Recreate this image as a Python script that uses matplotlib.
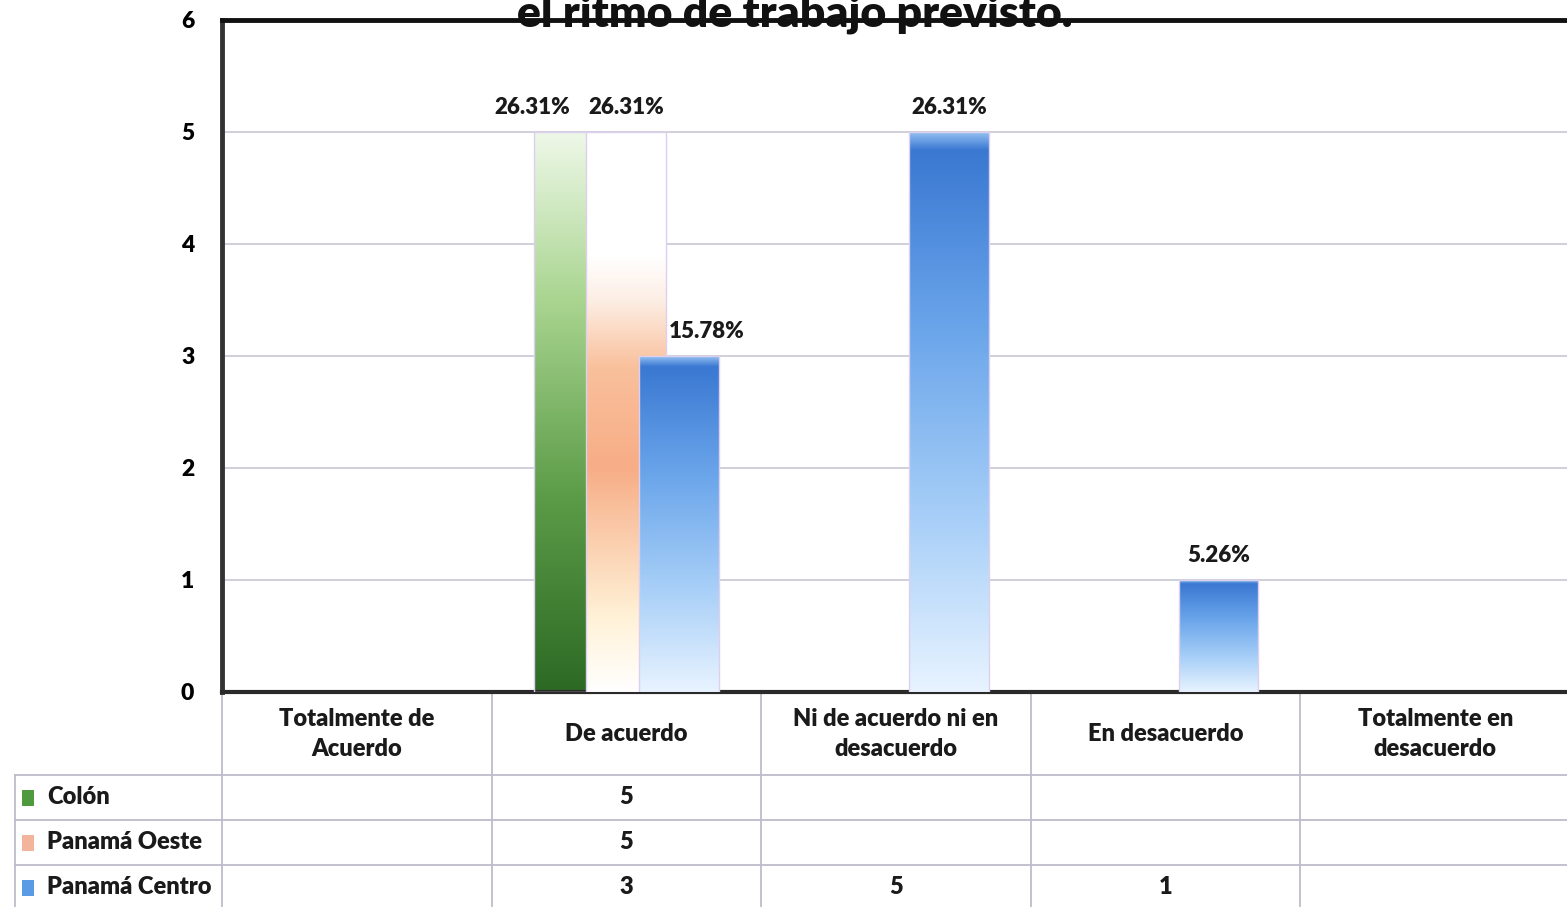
import numpy as np
import matplotlib
matplotlib.use("Agg")
import matplotlib.pyplot as plt
from matplotlib.colors import LinearSegmentedColormap
from matplotlib.patches import Rectangle

plt.rcParams['font.family'] = ['Lato', 'DejaVu Sans']
plt.rcParams['font.weight'] = 'heavy'

# data
categories = ["Totalmente de\nAcuerdo", "De acuerdo", "Ni de acuerdo ni en\ndesacuerdo",
              "En desacuerdo", "Totalmente en\ndesacuerdo"]
series_names = ["Colón", "Panamá Oeste", "Panamá Centro"]
colon = [0, 5, 0, 0, 0]
oeste = [0, 5, 0, 0, 0]
centro = [0, 3, 5, 1, 0]
colon_pct = ["", "26.31%", "", "", ""]
oeste_pct = ["", "26.31%", "", "", ""]
centro_pct = ["", "15.78%", "26.31%", "5.26%", ""]
yticks = [0, 1, 2, 3, 4, 5, 6]
title = "el ritmo de trabajo previsto."

# gradients (bottom -> top)
cm_green = LinearSegmentedColormap.from_list("g", [(0, '#2c6a24'), (0.35, '#5c9c48'),
                                                   (0.7, '#a9d590'), (1, '#eef8e8')])
cm_orange = LinearSegmentedColormap.from_list("o", [(0, '#ffffff'), (0.13, '#fff2d8'),
                                                    (0.4, '#f7ad86'), (0.58, '#f9c09c'),
                                                    (0.7, '#fdeee4'), (0.78, '#ffffff'),
                                                    (1, '#ffffff')])
cm_blue = LinearSegmentedColormap.from_list("b", [(0, '#e8f3ff'), (0.3, '#a9d0f8'),
                                                  (0.65, '#6aa5ea'), (0.97, '#3a78d2'),
                                                  (1, '#8fbdf0')])
square_cols = ['#4f9a3e', '#f2b49a', '#5b9be6']

W, H = 1567, 907
fig = plt.figure(figsize=(W / 100, H / 100), dpi=100)
ax = fig.add_axes([222 / W, 1 - 692 / H, 1348 / W, 672 / H])

series = [colon, oeste, centro]
pcts = [colon_pct, oeste_pct, centro_pct]
cmaps = [cm_green, cm_orange, cm_blue]
offsets = [-0.196, 0.0, 0.196]
width = 0.296
label_shift = [-30, 0, 20]   # points, only where bars overlap

x = np.arange(len(categories))
grad = np.linspace(0, 1, 256).reshape(-1, 1)
for s, (vals, pc, cm, off) in enumerate(zip(series, pcts, cmaps, offsets)):
    for i, v in enumerate(vals):
        if v <= 0:
            continue
        bx = x[i] + off
        bars = ax.bar(bx, v, width, facecolor='none', edgecolor='#ddd0ee', lw=1,
                      zorder=3 + s * 2)
        p = bars.patches[0]
        im = ax.imshow(grad, cmap=cm, origin='lower', aspect='auto',
                       extent=(bx - width / 2, bx + width / 2, 0, v),
                       zorder=2 + s * 2)
        im.set_clip_path(p)
        shift = label_shift[s] if sum(1 for ss in series if ss[i] > 0) > 1 else 0
        ax.annotate(pc[i], (bx, v), xytext=(shift, 18), textcoords='offset points',
                    ha='center', va='center', fontsize=16,
                    color='#1a1a1a', zorder=10)

ax.set_xlim(-0.5, len(categories) - 0.5)
ax.set_ylim(0, 6)
ax.set_yticks(yticks)
ax.set_yticklabels([str(t) for t in yticks], fontsize=16.5)
ax.tick_params(axis='y', length=0, pad=20)
ax.set_xticks([])
ax.grid(axis='y', color='#c8c8d4', lw=1.2, zorder=0)
ax.set_axisbelow(True)
ax.spines['left'].set_color('#333333')
ax.spines['left'].set_linewidth(3.5)
ax.spines['top'].set_color('#111111')
ax.spines['top'].set_linewidth(3.5)
ax.spines['bottom'].set_color('#2a2a2a')
ax.spines['bottom'].set_linewidth(3)
ax.spines['right'].set_visible(False)

# data table below the axis
tr = ax.get_xaxis_transform()
line_c = '#bcbccc'
row_y = [-83 / 672, -128 / 672, -173 / 672, -218 / 672]   # row borders
row_mid = [-42 / 672, -105 / 672, -150 / 672, -195 / 672]
x_left = -0.5 - 207 / 269.6
for yy in row_y[:3]:
    ax.plot([x_left, 4.6], [yy, yy], transform=tr, color=line_c, lw=1.3, clip_on=False)
for xb in np.arange(-0.5, len(categories), 1.0):
    ax.plot([xb, xb], [0, row_y[-1]], transform=tr, color=line_c, lw=1.3, clip_on=False)
ax.plot([x_left, x_left], [row_y[0], row_y[-1]], transform=tr, color=line_c, lw=1.3,
        clip_on=False)

for i, c in enumerate(categories):
    ax.text(x[i], row_mid[0], c, transform=tr, ha='center', va='center', fontsize=17,
            color='#1a1a1a', linespacing=1.5)

for r, (name, vals) in enumerate(zip(series_names, series)):
    ym = row_mid[r + 1]
    ax.add_patch(Rectangle((x_left + 7 / 269.6, ym - 0.014), 12 / 269.6, 0.024,
                           transform=tr, facecolor=square_cols[r], edgecolor='none',
                           clip_on=False))
    ax.text(x_left + 32 / 269.6, ym, name, transform=tr, ha='left', va='center',
            fontsize=17, color='#1a1a1a')
    for i, v in enumerate(vals):
        if v > 0:
            ax.text(x[i], ym, str(v), transform=tr, ha='center', va='center',
                    fontsize=17, color='#1a1a1a')

fig.text(795 / W, 1 - 27 / H, title, ha='center', va='baseline', fontsize=32,
         color='#111111', zorder=20)

fig.savefig("out.png", dpi=100, facecolor='white')
